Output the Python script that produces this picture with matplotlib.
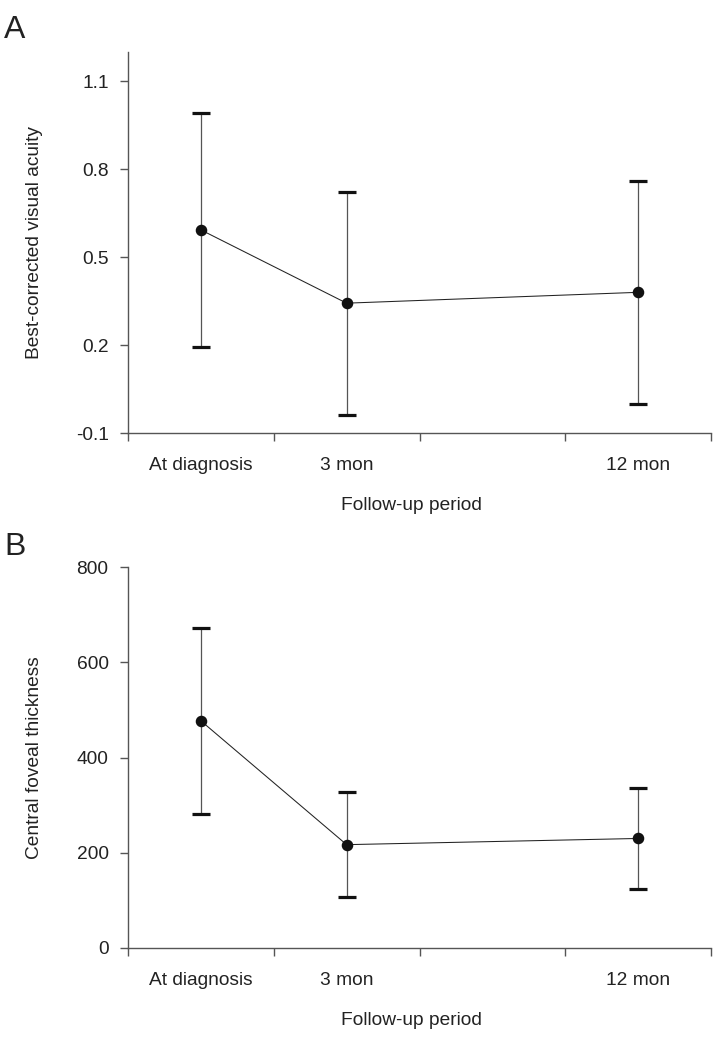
import matplotlib.pyplot as plt

# 数据
categories = ['At diagnosis', '3 mon', '12 mon']
cat_pos = [0.5, 1.5, 3.5]

bcva_mean = [0.593, 0.343, 0.380]
bcva_err = [0.40, 0.38, 0.38]

cft_mean = [477, 217, 230]
cft_err = [195, 110, 107]

plt.rcParams['font.family'] = ['Liberation Sans', 'DejaVu Sans']
plt.rcParams['font.size'] = 13.8
text_color = '#222222'
axis_color = '#555555'

fig = plt.figure(figsize=(7.21, 10.37), dpi=100)


def draw_panel(ax, mean, err, ylim, yticks, yticklabels, ylabel):
    # 连线和误差线
    ax.plot(cat_pos, mean, color=text_color, linewidth=0.75, zorder=2)
    line, caps, bars = ax.errorbar(cat_pos, mean, yerr=err, fmt='none',
                                   ecolor='#555555', elinewidth=0.9,
                                   capsize=6.8, capthick=2.3, zorder=3)
    for c in caps:
        c.set_markeredgecolor('#111111')
    ax.plot(cat_pos, mean, 'o', color='#111111', markersize=7.3, zorder=4)

    ax.set_xlim(0, 4)
    ax.set_ylim(*ylim)
    ax.set_xticks([0, 1, 2, 3, 4])
    ax.set_xticklabels([])
    ax.set_xticks(cat_pos, minor=True)
    ax.set_xticklabels(categories, minor=True)
    ax.tick_params(axis='x', which='major', direction='out', length=6,
                   width=1, color=axis_color)
    ax.tick_params(axis='x', which='minor', length=0, pad=17,
                   labelcolor=text_color, labelsize=13.8)
    ax.set_yticks(yticks)
    ax.set_yticklabels(yticklabels)
    ax.tick_params(axis='y', direction='out', length=6, width=1,
                   color=axis_color, pad=8, labelcolor=text_color,
                   labelsize=13.8)

    for s in ['top', 'right']:
        ax.spines[s].set_visible(False)
    for s in ['left', 'bottom']:
        ax.spines[s].set_color(axis_color)
        ax.spines[s].set_linewidth(1)

    ax.set_xlabel('Follow-up period', color=text_color, fontsize=13.8)
    ax.xaxis.set_label_coords(0.487, -0.168)
    ax.set_ylabel(ylabel, color=text_color, fontsize=13.8)
    ax.yaxis.set_label_coords(-0.146, 0.5)


ax1 = fig.add_axes([128 / 721, (1037 - 433) / 1037, 583 / 721, 381 / 1037])
draw_panel(ax1, bcva_mean, bcva_err, (-0.1, 1.2),
           [-0.1, 0.2, 0.5, 0.8, 1.1], ['-0.1', '0.2', '0.5', '0.8', '1.1'],
           'Best-corrected visual acuity')

ax2 = fig.add_axes([128 / 721, (1037 - 948) / 1037, 583 / 721, 381 / 1037])
draw_panel(ax2, cft_mean, cft_err, (0, 800),
           [0, 200, 400, 600, 800], ['0', '200', '400', '600', '800'],
           'Central foveal thickness')

fig.text(4 / 721, 1 - 38 / 1037, 'A', fontsize=23, color=text_color,
         va='baseline', ha='left')
fig.text(4 / 721, 1 - 555 / 1037, 'B', fontsize=23, color=text_color,
         va='baseline', ha='left')

plt.savefig('out.png', dpi=100)
